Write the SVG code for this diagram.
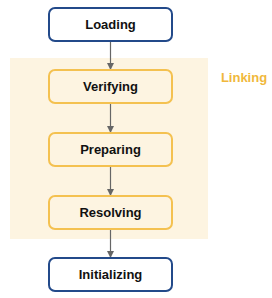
<svg xmlns="http://www.w3.org/2000/svg" width="272" height="298" viewBox="0 0 272 298">
<defs>
<style>
.blue{fill:#ffffff;stroke:#234a8a;stroke-width:2}
.orange{fill:#fdf4e1;stroke:#f4c150;stroke-width:2}
.lbl{font-family:"Liberation Sans",Arial,sans-serif;font-size:13px;font-weight:bold;fill:#111111;text-anchor:middle}
.edge{stroke:#666666;stroke-width:1.2;fill:none;marker-end:url(#arr)}
</style>
<marker id="arr" viewBox="0 0 10 10" refX="10" refY="5" markerWidth="7" markerHeight="7" markerUnits="userSpaceOnUse" orient="auto">
<path d="M0,0 L10,5 L0,10 z" fill="#666666"/>
</marker>
</defs>
<rect x="10" y="58" width="198" height="181" fill="#fdf4e1"/>
<text x="244" y="82" font-family="Liberation Sans,Arial,sans-serif" font-size="13" font-weight="bold" fill="#f0b83c" text-anchor="middle">Linking</text>
<g id="connectors">
<line class="edge" x1="110.5" y1="41" x2="110.5" y2="70"/>
<line class="edge" x1="110.5" y1="103" x2="110.5" y2="133"/>
<line class="edge" x1="110.5" y1="166" x2="110.5" y2="196"/>
<line class="edge" x1="110.5" y1="229" x2="110.5" y2="258"/>
</g>
<g id="loading"><rect class="blue" x="49" y="8" width="123" height="33" rx="6"/><text class="lbl" x="110.5" y="29">Loading</text></g>
<g id="verifying"><rect class="orange" x="49" y="70" width="123" height="33" rx="6"/><text class="lbl" x="110.5" y="91">Verifying</text></g>
<g id="preparing"><rect class="orange" x="49" y="133" width="123" height="33" rx="6"/><text class="lbl" x="110.5" y="154">Preparing</text></g>
<g id="resolving"><rect class="orange" x="49" y="196" width="123" height="33" rx="6"/><text class="lbl" x="110.5" y="217">Resolving</text></g>
<g id="initializing"><rect class="blue" x="49" y="258" width="123" height="33" rx="6"/><text class="lbl" x="110.5" y="279">Initializing</text></g>
</svg>
